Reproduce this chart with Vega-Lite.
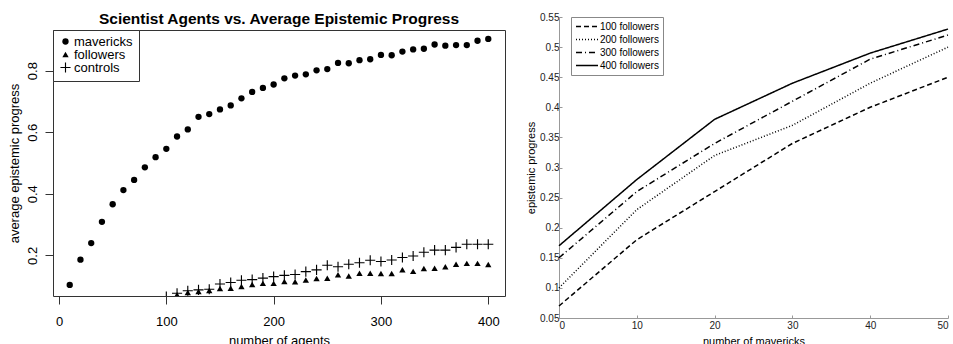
{
  "$schema": "https://vega.github.io/schema/vega-lite/v6.json",
  "padding": {"left": 7, "top": 11, "right": 0, "bottom": 0},
  "spacing": 19,
  "resolve": {"legend": {"shape": "independent", "strokeDash": "independent"}, "scale": {"x": "independent", "y": "independent"}},
  "config": {
    "font": "Liberation Sans",
    "axis": {"grid": false, "labelFont": "Liberation Sans", "titleFont": "Liberation Sans", "titleFontWeight": "normal"},
    "legend": {"labelFont": "Liberation Sans"}
  },
  "datasets": {
    "agents": [
      {"agents": 10, "progress": 0.104, "type": "mavericks"},
      {"agents": 20, "progress": 0.186, "type": "mavericks"},
      {"agents": 30, "progress": 0.240, "type": "mavericks"},
      {"agents": 40, "progress": 0.309, "type": "mavericks"},
      {"agents": 50, "progress": 0.366, "type": "mavericks"},
      {"agents": 60, "progress": 0.412, "type": "mavericks"},
      {"agents": 70, "progress": 0.445, "type": "mavericks"},
      {"agents": 80, "progress": 0.486, "type": "mavericks"},
      {"agents": 90, "progress": 0.519, "type": "mavericks"},
      {"agents": 100, "progress": 0.546, "type": "mavericks"},
      {"agents": 110, "progress": 0.586, "type": "mavericks"},
      {"agents": 120, "progress": 0.609, "type": "mavericks"},
      {"agents": 130, "progress": 0.650, "type": "mavericks"},
      {"agents": 140, "progress": 0.659, "type": "mavericks"},
      {"agents": 150, "progress": 0.674, "type": "mavericks"},
      {"agents": 160, "progress": 0.687, "type": "mavericks"},
      {"agents": 170, "progress": 0.710, "type": "mavericks"},
      {"agents": 180, "progress": 0.731, "type": "mavericks"},
      {"agents": 190, "progress": 0.744, "type": "mavericks"},
      {"agents": 200, "progress": 0.755, "type": "mavericks"},
      {"agents": 210, "progress": 0.775, "type": "mavericks"},
      {"agents": 220, "progress": 0.784, "type": "mavericks"},
      {"agents": 230, "progress": 0.788, "type": "mavericks"},
      {"agents": 240, "progress": 0.801, "type": "mavericks"},
      {"agents": 250, "progress": 0.805, "type": "mavericks"},
      {"agents": 260, "progress": 0.825, "type": "mavericks"},
      {"agents": 270, "progress": 0.824, "type": "mavericks"},
      {"agents": 280, "progress": 0.834, "type": "mavericks"},
      {"agents": 290, "progress": 0.837, "type": "mavericks"},
      {"agents": 300, "progress": 0.851, "type": "mavericks"},
      {"agents": 310, "progress": 0.850, "type": "mavericks"},
      {"agents": 320, "progress": 0.862, "type": "mavericks"},
      {"agents": 330, "progress": 0.869, "type": "mavericks"},
      {"agents": 340, "progress": 0.871, "type": "mavericks"},
      {"agents": 350, "progress": 0.885, "type": "mavericks"},
      {"agents": 360, "progress": 0.881, "type": "mavericks"},
      {"agents": 370, "progress": 0.883, "type": "mavericks"},
      {"agents": 380, "progress": 0.883, "type": "mavericks"},
      {"agents": 390, "progress": 0.897, "type": "mavericks"},
      {"agents": 400, "progress": 0.903, "type": "mavericks"},
      {"agents": 110, "progress": 0.072, "type": "followers"},
      {"agents": 120, "progress": 0.079, "type": "followers"},
      {"agents": 130, "progress": 0.0825, "type": "followers"},
      {"agents": 140, "progress": 0.086, "type": "followers"},
      {"agents": 150, "progress": 0.092, "type": "followers"},
      {"agents": 160, "progress": 0.093, "type": "followers"},
      {"agents": 170, "progress": 0.099, "type": "followers"},
      {"agents": 180, "progress": 0.105, "type": "followers"},
      {"agents": 190, "progress": 0.109, "type": "followers"},
      {"agents": 200, "progress": 0.109, "type": "followers"},
      {"agents": 210, "progress": 0.115, "type": "followers"},
      {"agents": 220, "progress": 0.114, "type": "followers"},
      {"agents": 230, "progress": 0.120, "type": "followers"},
      {"agents": 240, "progress": 0.125, "type": "followers"},
      {"agents": 250, "progress": 0.126, "type": "followers"},
      {"agents": 260, "progress": 0.137, "type": "followers"},
      {"agents": 270, "progress": 0.133, "type": "followers"},
      {"agents": 280, "progress": 0.142, "type": "followers"},
      {"agents": 290, "progress": 0.142, "type": "followers"},
      {"agents": 300, "progress": 0.141, "type": "followers"},
      {"agents": 310, "progress": 0.141, "type": "followers"},
      {"agents": 320, "progress": 0.153, "type": "followers"},
      {"agents": 330, "progress": 0.148, "type": "followers"},
      {"agents": 340, "progress": 0.157, "type": "followers"},
      {"agents": 350, "progress": 0.158, "type": "followers"},
      {"agents": 360, "progress": 0.163, "type": "followers"},
      {"agents": 370, "progress": 0.171, "type": "followers"},
      {"agents": 380, "progress": 0.174, "type": "followers"},
      {"agents": 390, "progress": 0.174, "type": "followers"},
      {"agents": 400, "progress": 0.170, "type": "followers"},
      {"agents": 100, "progress": 0.066, "type": "controls"},
      {"agents": 110, "progress": 0.077, "type": "controls"},
      {"agents": 120, "progress": 0.085, "type": "controls"},
      {"agents": 130, "progress": 0.088, "type": "controls"},
      {"agents": 140, "progress": 0.090, "type": "controls"},
      {"agents": 150, "progress": 0.107, "type": "controls"},
      {"agents": 160, "progress": 0.112, "type": "controls"},
      {"agents": 170, "progress": 0.119, "type": "controls"},
      {"agents": 180, "progress": 0.121, "type": "controls"},
      {"agents": 190, "progress": 0.126, "type": "controls"},
      {"agents": 200, "progress": 0.131, "type": "controls"},
      {"agents": 210, "progress": 0.135, "type": "controls"},
      {"agents": 220, "progress": 0.138, "type": "controls"},
      {"agents": 230, "progress": 0.147, "type": "controls"},
      {"agents": 240, "progress": 0.153, "type": "controls"},
      {"agents": 250, "progress": 0.168, "type": "controls"},
      {"agents": 260, "progress": 0.163, "type": "controls"},
      {"agents": 270, "progress": 0.171, "type": "controls"},
      {"agents": 280, "progress": 0.176, "type": "controls"},
      {"agents": 290, "progress": 0.184, "type": "controls"},
      {"agents": 300, "progress": 0.180, "type": "controls"},
      {"agents": 310, "progress": 0.185, "type": "controls"},
      {"agents": 320, "progress": 0.193, "type": "controls"},
      {"agents": 330, "progress": 0.198, "type": "controls"},
      {"agents": 340, "progress": 0.210, "type": "controls"},
      {"agents": 350, "progress": 0.217, "type": "controls"},
      {"agents": 360, "progress": 0.217, "type": "controls"},
      {"agents": 370, "progress": 0.226, "type": "controls"},
      {"agents": 380, "progress": 0.236, "type": "controls"},
      {"agents": 390, "progress": 0.236, "type": "controls"},
      {"agents": 400, "progress": 0.236, "type": "controls"}
    ],
    "mav": [
      {"mavericks": 0, "progress": 0.07, "followers": "100 followers"},
      {"mavericks": 10, "progress": 0.18, "followers": "100 followers"},
      {"mavericks": 20, "progress": 0.26, "followers": "100 followers"},
      {"mavericks": 30, "progress": 0.34, "followers": "100 followers"},
      {"mavericks": 40, "progress": 0.40, "followers": "100 followers"},
      {"mavericks": 50, "progress": 0.45, "followers": "100 followers"},
      {"mavericks": 0, "progress": 0.10, "followers": "200 followers"},
      {"mavericks": 10, "progress": 0.23, "followers": "200 followers"},
      {"mavericks": 20, "progress": 0.32, "followers": "200 followers"},
      {"mavericks": 30, "progress": 0.37, "followers": "200 followers"},
      {"mavericks": 40, "progress": 0.44, "followers": "200 followers"},
      {"mavericks": 50, "progress": 0.50, "followers": "200 followers"},
      {"mavericks": 0, "progress": 0.15, "followers": "300 followers"},
      {"mavericks": 10, "progress": 0.26, "followers": "300 followers"},
      {"mavericks": 20, "progress": 0.34, "followers": "300 followers"},
      {"mavericks": 30, "progress": 0.41, "followers": "300 followers"},
      {"mavericks": 40, "progress": 0.48, "followers": "300 followers"},
      {"mavericks": 50, "progress": 0.52, "followers": "300 followers"},
      {"mavericks": 0, "progress": 0.17, "followers": "400 followers"},
      {"mavericks": 10, "progress": 0.28, "followers": "400 followers"},
      {"mavericks": 20, "progress": 0.38, "followers": "400 followers"},
      {"mavericks": 30, "progress": 0.44, "followers": "400 followers"},
      {"mavericks": 40, "progress": 0.49, "followers": "400 followers"},
      {"mavericks": 50, "progress": 0.53, "followers": "400 followers"}
    ]
  },
  "hconcat": [
    {
      "width": 452,
      "height": 266,
      "view": {"stroke": "#333", "strokeWidth": 1},
      "title": {"text": "Scientist Agents vs. Average Epistemic Progress", "fontSize": 15.5, "fontWeight": "bold", "font": "Liberation Sans", "anchor": "middle", "offset": 2, "color": "black"},
      "data": {"name": "agents"},
      "mark": {"type": "point", "filled": true, "fill": "black", "strokeWidth": 0, "size": 40, "opacity": 1, "clip": true},
      "encoding": {
        "x": {"field": "agents", "type": "quantitative",
              "scale": {"domain": [-5.6, 415.6], "nice": false, "zero": false},
              "axis": {"values": [0, 100, 200, 300, 400], "tickSize": 8, "tickColor": "#333", "domain": false,
                       "labelFontSize": 13, "labelColor": "black", "labelPadding": 11,
                       "title": "number of agents", "titleFontSize": 13, "titleColor": "black", "titlePadding": 6}},
        "y": {"field": "progress", "type": "quantitative",
              "scale": {"domain": [0.068, 0.932], "nice": false, "zero": false},
              "axis": {"values": [0.2, 0.4, 0.6, 0.8], "format": ".1f", "tickSize": 8, "tickColor": "#333", "domain": false,
                       "labelFontSize": 13, "labelColor": "black", "labelAngle": -90, "labelAlign": "center", "labelBaseline": "alphabetic", "labelPadding": 9,
                       "title": "average epistemic progress", "titleFontSize": 13, "titleColor": "black", "titlePadding": 5}},
        "shape": {"field": "type", "type": "nominal",
                  "scale": {"domain": ["mavericks", "followers", "controls"], "range": ["circle", "triangle-up", "M-1.6,-0.18H-0.18V-1.6H0.18V-0.18H1.6V0.18H0.18V1.6H-0.18V0.18H-1.6Z"]},
                  "legend": {"title": null, "orient": "top-left", "offset": 0, "padding": 6, "strokeColor": "#333", "fillColor": "white",
                             "labelFontSize": 13, "labelColor": "black", "symbolSize": 40, "symbolFillColor": "black", "symbolStrokeWidth": 0, "clipHeight": 11, "rowPadding": -2, "labelOffset": 2, "cornerRadius": 0}}
      }
    },
    {
      "width": 389,
      "height": 288,
      "view": {"stroke": null},
      "data": {"name": "mav"},
      "mark": {"type": "line", "strokeWidth": 1.5, "color": "black", "clip": false},
      "encoding": {
        "x": {"field": "mavericks", "type": "quantitative",
              "scale": {"domain": [0, 50], "nice": false, "zero": false},
              "axis": {"values": [0, 10, 20, 30, 40, 50], "tickSize": -3, "tickColor": "#999", "domainColor": "#999",
                       "labelFontSize": 10, "labelColor": "#222", "labelPadding": 5,
                       "title": "number of mavericks", "titleFontSize": 11, "titleColor": "black", "titlePadding": 5}},
        "y": {"field": "progress", "type": "quantitative",
              "scale": {"domain": [0.05, 0.55], "nice": false, "zero": false, "range": [288, -13]},
              "axis": {"values": [0.05, 0.1, 0.15, 0.2, 0.25, 0.3, 0.35, 0.4, 0.45, 0.5, 0.55], "format": "~g", "tickSize": -3, "tickColor": "#999", "domainColor": "#999",
                       "labelFontSize": 10, "labelColor": "#222", "labelPadding": 3,
                       "title": "epistemic progress", "titleFontSize": 11, "titleColor": "black", "titlePadding": 3}},
        "strokeDash": {"field": "followers", "type": "nominal",
                       "scale": {"domain": ["100 followers", "200 followers", "300 followers", "400 followers"], "range": [[5, 3], [1, 2], [6, 3, 1, 3], [1, 0]]},
                       "legend": {"title": null, "orient": "none", "legendX": 12, "legendY": -13, "padding": 4, "strokeColor": "#888", "fillColor": "white",
                                  "labelFontSize": 10, "labelColor": "black", "symbolType": "stroke", "symbolSize": 484, "symbolStrokeColor": "black", "symbolStrokeWidth": 1.5, "clipHeight": 11, "rowPadding": 2, "labelOffset": 1, "cornerRadius": 0}}
      }
    }
  ]
}
